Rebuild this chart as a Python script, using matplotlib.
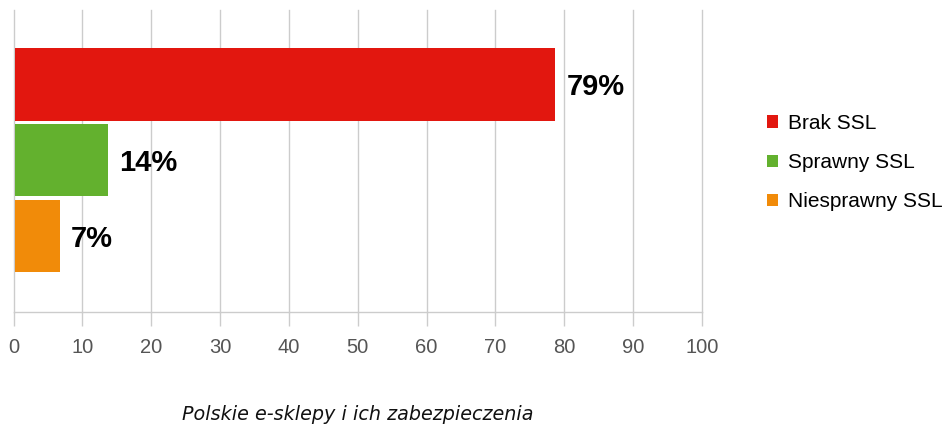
import matplotlib.pyplot as plt
from matplotlib.patches import Patch

# data
series = ["Brak SSL", "Sprawny SSL", "Niesprawny SSL"]
values = [78.7, 13.7, 6.7]
labels = ["79%", "14%", "7%"]
colors = ["#e2170f", "#63b12e", "#f18b09"]
xticks = [0, 10, 20, 30, 40, 50, 60, 70, 80, 90, 100]
title = "Polskie e-sklepy i ich zabezpieczenia"

plt.rcParams['font.family'] = ['Liberation Sans', 'DejaVu Sans']

W, H = 951, 433
fig = plt.figure(figsize=(W / 100, H / 100), dpi=100)
ax = fig.add_axes([13.5 / W, (H - 312) / H, (702 - 13.5) / W, (312 - 10) / H])

pos = list(range(len(series)))
start = 0.25
ax.barh(pos, [v - start for v in values], height=0.955, color=colors, left=start, zorder=3)
for p, v, lab in zip(pos, values, labels):
    # small nudge so the digits sit centred on the bar
    ax.text(v + 1.6, p + 0.04, lab, va='center', ha='left', fontsize=21,
            fontweight='bold', color='black', zorder=4)

ax.set_xlim(0, 100)
ax.set_ylim(3.0, -0.98)
ax.set_xticks(xticks)
ax.set_xticklabels([str(t) for t in xticks])
ax.set_yticks([])
ax.grid(axis='x', color='#cccccc', linewidth=1, zorder=0)
for gl in ax.get_xgridlines():
    gl.set_clip_on(False)
ax.tick_params(axis='x', direction='out', length=10, width=1, color='#cccccc',
               labelsize=14.5, labelcolor='#555555', pad=9)
for s in ['top', 'right', 'left']:
    ax.spines[s].set_visible(False)
ax.spines['bottom'].set_color('#cccccc')
ax.spines['bottom'].set_linewidth(1)

handles = [Patch(facecolor=c, edgecolor='none') for c in colors]
fig.legend(handles, series, loc='upper left', bbox_to_anchor=(767 / W, 1 - 114 / H),
           frameon=False, fontsize=15, handlelength=0.55, handleheight=0.55,
           handletextpad=0.48, labelspacing=0.97, borderaxespad=0, borderpad=0)

fig.text((182 + 533) / 2 / W, 1 - 414 / H, title, ha='center', va='center',
         fontsize=13.8, style='italic', family='DejaVu Sans', color='#111111')

fig.savefig("out.png", dpi=100)
